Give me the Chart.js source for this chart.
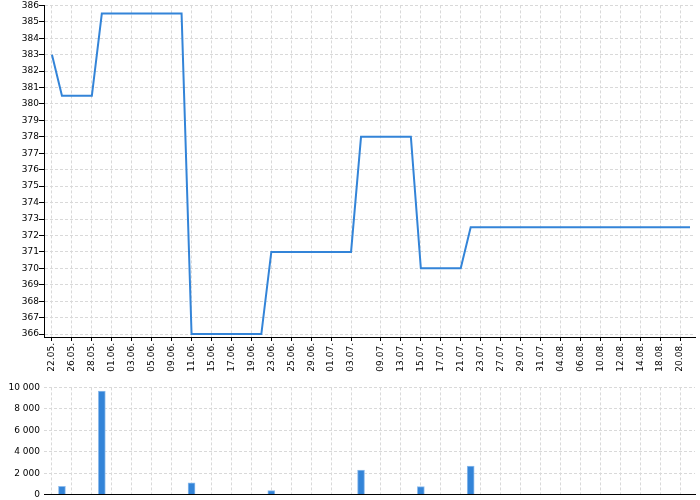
<!DOCTYPE html>
<html>
<head>
<meta charset="utf-8">
<script src="https://cdn.jsdelivr.net/npm/chart.js@4.4.0/dist/chart.umd.min.js"></script>
<style>
  body { margin: 0; background: #fff; overflow: hidden; }
  canvas { display: block; }
</style>
</head>
<body>
<canvas id="priceChart" width="700" height="378"></canvas>
<canvas id="volumeChart" width="700" height="126"></canvas>
<script>
// one entry per point on the x axis, '' where the axis shows no label
const dateLabels = [
    '22.05.', '', '26.05.', '', '28.05.', '', '01.06.', '', '03.06.', '',
    '05.06.', '', '09.06.', '', '11.06.', '', '15.06.', '', '17.06.', '',
    '19.06.', '', '23.06.', '', '25.06.', '', '29.06.', '', '01.07.', '',
    '03.07.', '', '', '09.07.', '', '13.07.', '', '15.07.', '', '17.07.',
    '', '21.07.', '', '23.07.', '', '27.07.', '', '29.07.', '', '31.07.',
    '', '04.08.', '', '06.08.', '', '10.08.', '', '12.08.', '', '14.08.',
    '', '18.08.', '', '20.08.', ''
];

const prices = [
    383, 380.5, 380.5, 380.5, 380.5, 385.5, 385.5, 385.5, 385.5, 385.5,
    385.5, 385.5, 385.5, 385.5, 366, 366, 366, 366, 366, 366,
    366, 366, 371, 371, 371, 371, 371, 371, 371, 371,
    371, 378, 378, 378, 378, 378, 378, 370, 370, 370,
    370, 370, 372.5, 372.5, 372.5, 372.5, 372.5, 372.5, 372.5, 372.5,
    372.5, 372.5, 372.5, 372.5, 372.5, 372.5, 372.5, 372.5, 372.5, 372.5,
    372.5, 372.5, 372.5, 372.5, 372.5
];

const volumes = [
    null, 780, null, null, null, 9650, null, null, null, null,
    null, null, null, null, 1100, null, null, null, null, null,
    null, null, 370, null, null, null, null, null, null, null,
    null, 2280, null, null, null, null, null, 740, null, null,
    null, null, 2650, null, null, null, null, null, null, null,
    null, null, null, null, null, null, null, null, null, null,
    null, null, null, null, null
];

const priceTicks = [366, 367, 368, 369, 370, 371, 372, 373, 374, 375, 376,
    377, 378, 379, 380, 381, 382, 383, 384, 385, 386];
const volumeTicks = [0, 2000, 4000, 6000, 8000, 10000];

const COLORS = {
    line: '#3384d8',
    bar: '#3384d8',
    barEdge: '#8fbcec',
    grid: '#d9d9d9',
    axis: '#000000'
};

Chart.defaults.font.family = 'DejaVu Sans';
Chart.defaults.font.size = 9;
Chart.defaults.color = '#000';

const labelIndexes = dateLabels.map((d, i) => (d ? i : -1)).filter((i) => i >= 0);

function dateAxis(showLabels, height) {
    return {
        type: 'linear',
        offset: false,
        min: -0.8,
        max: dateLabels.length - 0.5,
        afterBuildTicks: (scale) => {
            scale.ticks = labelIndexes.map((v) => ({ value: v }));
        },
        afterFit: (scale) => { scale.height = height; },
        grid: {
            offset: false,
            color: COLORS.grid,
            drawTicks: showLabels,
            tickLength: 4,
            tickColor: COLORS.axis
        },
        border: { display: true, color: COLORS.axis, width: 1, dash: [3, 2] },
        ticks: {
            display: showLabels,
            autoSkip: false,
            minRotation: 90,
            maxRotation: 90,
            padding: 2,
            callback: (v) => dateLabels[v]
        }
    };
}

function formatThousands(v) {
    return String(v).replace(/\B(?=(\d{3})+(?!\d))/g, ' ');
}

new Chart(document.getElementById('priceChart'), {
    type: 'line',
    data: {
        datasets: [{
            data: prices.map((p, i) => ({ x: i, y: p })),
            borderColor: COLORS.line,
            borderWidth: 2,
            pointRadius: 0,
            tension: 0,
            fill: false
        }]
    },
    options: {
        responsive: false,
        animation: false,
        layout: { padding: { top: 5, right: 5, left: 0, bottom: 0 } },
        plugins: { legend: { display: false }, tooltip: { enabled: false } },
        scales: {
            x: dateAxis(true, 41),
            y: {
                min: 365.82,
                max: 386,
                afterBuildTicks: (scale) => {
                    scale.ticks = priceTicks.map((v) => ({ value: v }));
                },
                afterFit: (scale) => { scale.width = 44; },
                grid: {
                    color: COLORS.grid,
                    tickLength: 5,
                    tickColor: COLORS.axis
                },
                border: { display: true, color: COLORS.axis, width: 1, dash: [3, 2] },
                ticks: { padding: 0 }
            }
        }
    }
});

new Chart(document.getElementById('volumeChart'), {
    type: 'bar',
    data: {
        datasets: [{
            data: volumes.map((v, i) => ({ x: i, y: v })),
            backgroundColor: COLORS.bar,
            borderColor: COLORS.barEdge,
            borderWidth: { left: 1, right: 1, top: 1, bottom: 0 },
            barThickness: 7
        }]
    },
    options: {
        responsive: false,
        animation: false,
        layout: { padding: { top: 6, right: 5, left: 0, bottom: 0 } },
        plugins: { legend: { display: false }, tooltip: { enabled: false } },
        scales: {
            x: dateAxis(false, 2),
            y: {
                min: 0,
                max: 10000,
                afterBuildTicks: (scale) => {
                    scale.ticks = volumeTicks.map((v) => ({ value: v }));
                },
                afterFit: (scale) => { scale.width = 44; },
                grid: { color: COLORS.grid, drawTicks: false },
                border: { display: false, dash: [3, 2] },
                ticks: { padding: 4, callback: (v) => formatThousands(v) }
            }
        }
    }
});
</script>
</body>
</html>
